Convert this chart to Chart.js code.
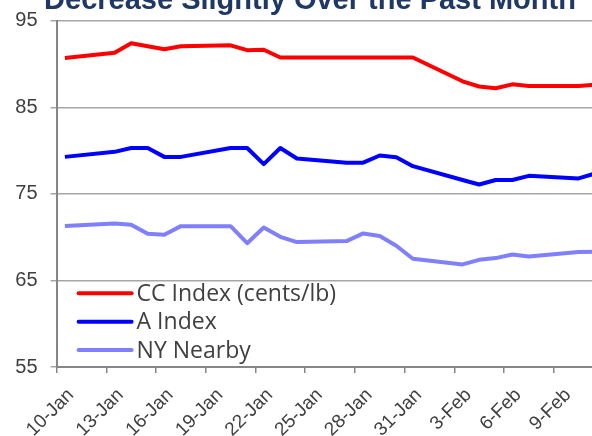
<!DOCTYPE html>
<html lang="en">
<head>
<meta charset="UTF-8">
<title>Decrease Slightly Over the Past Month</title>
<script src="https://cdn.jsdelivr.net/npm/chart.js"></script>
<style>
  html, body { margin: 0; padding: 0; background: #fff; overflow: hidden; }
  body { width: 592px; height: 436px; position: relative; }
  #grafico { position: absolute; left: 0; top: -20px; }
</style>
</head>
<body>
<canvas id="grafico" width="620" height="480"></canvas>

<script>
  // one label per calendar day, weekends have no value
  const dias = ['10-Jan', '11-Jan', '12-Jan', '13-Jan', '14-Jan', '15-Jan', '16-Jan', '17-Jan',
    '18-Jan', '19-Jan', '20-Jan', '21-Jan', '22-Jan', '23-Jan', '24-Jan', '25-Jan', '26-Jan',
    '27-Jan', '28-Jan', '29-Jan', '30-Jan', '31-Jan', '1-Feb', '2-Feb', '3-Feb', '4-Feb',
    '5-Feb', '6-Feb', '7-Feb', '8-Feb', '9-Feb', '10-Feb', '11-Feb', '12-Feb'];

  const ccIndex = [90.7, null, null, 91.3, 92.4, 92.05, 91.7, 92.05, null, null, 92.15, 91.6,
    91.65, 90.75, 90.75, null, null, 90.75, 90.75, 90.75, 90.75, 90.75, null, null, 88.0, 87.4,
    87.2, 87.65, 87.45, null, null, 87.45, 87.6];

  const aIndex = [79.27, null, null, 79.85, 80.3, 80.3, 79.27, 79.27, null, null, 80.3, 80.3,
    78.43, 80.3, 79.08, null, null, 78.58, 78.6, 79.43, 79.24, 78.2, null, null, 76.6, 76.08,
    76.6, 76.6, 77.08, null, null, 76.78, 77.35];

  const nyNearby = [71.3, null, null, 71.58, 71.42, 70.38, 70.27, 71.27, null, null, 71.27, 69.3,
    71.12, 70.04, 69.43, null, null, 69.54, 70.43, 70.12, 69.0, 67.5, null, null, 66.85, 67.38,
    67.58, 68.0, 67.77, null, null, 68.27, 68.3];

  const nomesSeries = ['CC Index (cents/lb)', 'A Index', 'NY Nearby'];
  const yMin = 55, yMax = 95, yPasso = 10;
  const cinza = '#868686';

  // legend drawn inside the plot, bottom left
  const legendaInterna = {
    id: 'legendaInterna',
    afterDatasetsDraw(chart) {
      const ctx = chart.ctx;
      const area = chart.chartArea;
      ctx.save();
      chart.data.datasets.forEach(function (ds, i) {
        let y = area.bottom - 73.7 + i * 28.35;
        ctx.strokeStyle = ds.borderColor;
        ctx.lineWidth = 4;
        ctx.lineCap = 'round';
        ctx.beginPath();
        ctx.moveTo(area.left + 22, y);
        ctx.lineTo(area.left + 75, y);
        ctx.stroke();
        ctx.fillStyle = '#404040';
        ctx.font = '23px "Open Sans"';
        ctx.textBaseline = 'middle';
        ctx.fillText(ds.label, area.left + 80, y + 1);
      });
      ctx.restore();
    }
  };

  function serie(label, data, cor) {
    return {
      label: label,
      data: data,
      borderColor: cor,
      backgroundColor: cor,
      borderWidth: 4,
      pointRadius: 0,
      tension: 0,
      spanGaps: true,
      borderJoinStyle: 'round',
      fill: false
    };
  }

  const config = {
    type: 'line',
    data: {
      labels: dias,
      datasets: [
        serie(nomesSeries[0], ccIndex, '#ff0000'),
        serie(nomesSeries[1], aIndex, '#0000ff'),
        serie(nomesSeries[2], nyNearby, '#8080ff')
      ]
    },
    options: {
      responsive: false,
      animation: false,
      layout: { padding: { left: 0, right: 0, top: 0, bottom: 0 } },
      plugins: {
        legend: { display: false },
        tooltip: { enabled: false },
        title: {
          display: true,
          text: 'Decrease Slightly Over the Past Month',
          color: '#1f3864',
          font: { family: '"Liberation Sans", Arial', size: 29, weight: 'bold' },
          padding: { top: 3.6, bottom: 2.3 }
        }
      },
      scales: {
        x: {
          offset: true,
          afterFit: function (s) {
            s.height = 93;
            s.paddingLeft = 0;
            s.paddingRight = 0;
          },
          border: { color: cinza, width: 2 },
          grid: {
            offset: true,
            drawOnChartArea: false,
            tickLength: 6,
            lineWidth: 1.5,
            tickColor: function (c) { return c.index % 3 === 0 ? cinza : 'rgba(0,0,0,0)'; }
          },
          ticks: {
            autoSkip: false,
            minRotation: 45,
            maxRotation: 45,
            labelOffset: 6,
            padding: 11,
            color: '#404040',
            font: { family: '"Liberation Sans", Arial', size: 19 },
            // last label (12-Feb) is past the data and not shown
            callback: function (v, i) { return (i % 3 === 0 && i < ccIndex.length) ? dias[i] : ''; }
          }
        },
        y: {
          min: yMin,
          max: yMax,
          afterFit: function (s) { s.width = 56.6; },
          border: { color: cinza, width: 2 },
          grid: { color: '#a6a6a6', lineWidth: 1.5, tickLength: 6 },
          ticks: {
            stepSize: yPasso,
            padding: 13,
            color: '#404040',
            font: { family: '"Liberation Sans", Arial', size: 20 }
          }
        }
      }
    },
    plugins: [legendaInterna]
  };

  let ctx = document.getElementById('grafico').getContext('2d');
  let myChart = new Chart(ctx, config);
</script>
</body>
</html>
